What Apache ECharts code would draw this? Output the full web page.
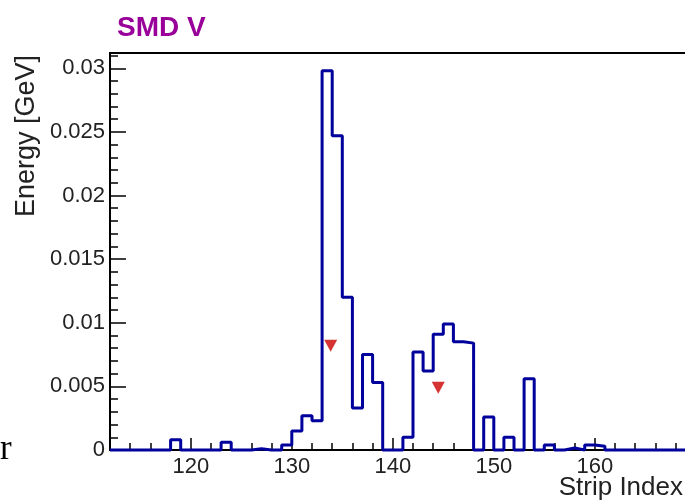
<!DOCTYPE html>
<html><head><meta charset="utf-8">
<script src="https://cdn.jsdelivr.net/npm/echarts@6/dist/echarts.min.js"></script>
<style>html,body{margin:0;padding:0;background:#fff}#c{width:685px;height:500px}</style>
</head><body><div id="c"></div>
<script>
// ---- data ----
const strips = [112,113,114,115,116,117,118,119,120,121,122,123,124,125,126,127,128,129,
  130,131,132,133,134,135,136,137,138,139,140,141,142,143,144,145,146,147,148,149,
  150,151,152,153,154,155,156,157,158,159,160,161,162,163,164,165,166,167,168,169];
const energy = [0,0,0,0,0,0,0.0008,0,0,0,0,0.0006,0,0,0.0001,0,0,0.0004,
  0.0015,0.0027,0.0023,0.0298,0.0247,0.0120,0.0033,0.0075,0.0053,0,0,0.0010,0.0077,0.0062,0.0091,0.0099,0.0085,0.0084,0,0.0026,
  0,0.0010,0,0.0056,0,0.0004,0,0.00015,0,0.0004,0.0003,0,0,0,0,0,0,0,0,0];
const markerX = [133.85, 144.5];
const markerY = [0.0082, 0.0049];
const xTickValues = [120,130,140,150,160];
const xTickLabels = ['120','130','140','150','160'];
const yTickValues = [0,0.005,0.01,0.015,0.02,0.025,0.03];
const yTickLabels = ['0','0.005','0.01','0.015','0.02','0.025','0.03'];
const chartTitle = 'SMD V';
const xTitle = 'Strip Index';
const yTitle = 'Energy [GeV]';

// ---- layout ----
const PPU = 10.1;          // px per strip
const L = 110, T = 53, H = 397;
const xMin = 112, xMax = 170, xMajMin = 120;
const yMin = 0, yMax = 0.0312;
const FONT = 'Liberation Sans, Arial, sans-serif';

const stepData = strips.map((s, i) => [s, energy[i]]);
stepData.push([strips[strips.length - 1] + 1, energy[energy.length - 1]]);
const markerData = markerX.map((x, i) => [x, markerY[i]]);

function lab(values, labels) {
  return v => {
    for (let i = 0; i < values.length; i++) if (Math.abs(v - values[i]) < 1e-9) return labels[i];
    return '';
  };
}

const chart = echarts.init(document.getElementById('c'), null, {renderer: 'canvas'});
chart.setOption({
  animation: false,
  backgroundColor: '#fff',
  title: {
    text: chartTitle, left: 112, top: 9,
    textStyle: {fontFamily: FONT, fontSize: 28, fontWeight: 'bold', color: '#990099'}
  },
  grid: [
    {left: L, top: T, width: (xMax - xMin) * PPU, height: H, show: true, containLabel: false,
     outerBoundsMode: 'none',
     borderColor: '#000', borderWidth: 2, backgroundColor: 'transparent'},
    {left: L + (xMajMin - xMin) * PPU, top: T, width: (xMax - xMajMin) * PPU, height: H,
     containLabel: false, outerBoundsMode: 'none'}
  ],
  xAxis: [
    {type: 'value', gridIndex: 0, position: 'bottom', min: xMin, max: xMax, interval: 2,
     axisLine: {show: false}, splitLine: {show: false},
     axisTick: {show: true, inside: true, length: 7, lineStyle: {color: '#000', width: 1.5}},
     axisLabel: {show: false}},
    {type: 'value', gridIndex: 1, position: 'bottom', min: xMajMin, max: xMax, interval: 10,
     axisLine: {show: false}, splitLine: {show: false},
     axisTick: {show: true, inside: true, length: 12, lineStyle: {color: '#000', width: 1.5}},
     axisLabel: {show: true, margin: 6, fontFamily: FONT, fontSize: 22, color: '#222',
       formatter: lab(xTickValues, xTickLabels)}}
  ],
  yAxis: [
    {type: 'value', gridIndex: 0, position: 'left', offset: 0, min: yMin, max: yMax, interval: 0.001,
     axisLine: {show: false}, splitLine: {show: false},
     axisTick: {show: true, inside: true, length: 8, lineStyle: {color: '#000', width: 1.5}},
     axisLabel: {show: false}},
    {type: 'value', gridIndex: 0, position: 'left', offset: 0, min: yMin, max: yMax, interval: 0.005,
     axisLine: {show: false}, splitLine: {show: false},
     axisTick: {show: true, inside: true, length: 16, lineStyle: {color: '#000', width: 1.5}},
     axisLabel: {show: true, margin: 5, fontFamily: FONT, fontSize: 22, color: '#222',
       showMaxLabel: false, formatter: lab(yTickValues, yTickLabels)}},
    {type: 'value', gridIndex: 1, min: yMin, max: yMax, show: false}
  ],
  series: [
    {type: 'line', xAxisIndex: 0, yAxisIndex: 0, data: stepData, step: 'end',
     symbol: 'none', clip: false, lineStyle: {color: '#00009c', width: 3}, z: 5},
    {type: 'scatter', xAxisIndex: 0, yAxisIndex: 0, data: markerData,
     symbol: 'triangle', symbolRotate: 180, symbolSize: [13, 12],
     itemStyle: {color: '#cc0000'}, z: 6}
  ],
  graphic: [
    {type: 'text', x: 683, y: 488, style: {text: xTitle, align: 'right', verticalAlign: 'middle',
      font: '26px ' + FONT, fill: '#222'}},
    {type: 'text', x: 27, y: 55, rotation: Math.PI / 2, style: {text: yTitle, align: 'right',
      verticalAlign: 'middle', font: '27px ' + FONT, fill: '#222'}},
    {type: 'text', x: 0, y: 467, style: {text: 'r', align: 'left', verticalAlign: 'bottom',
      font: '35px Liberation Serif, Times New Roman, serif', fill: '#000'}}
  ]
});
</script>
</body></html>
